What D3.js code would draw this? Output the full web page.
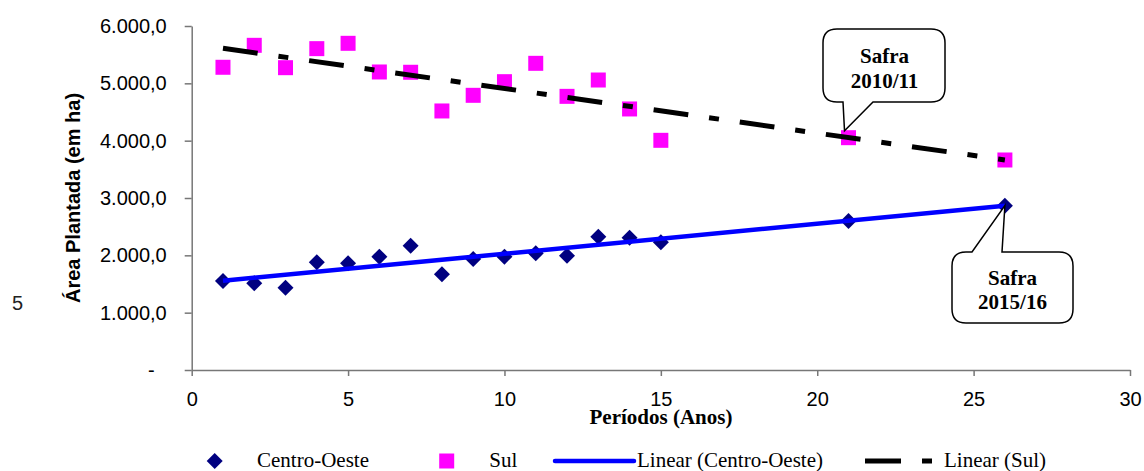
<!DOCTYPE html>
<html lang="pt">
<head>
  <meta charset="UTF-8">
  <title>Área Plantada - Centro-Oeste e Sul</title>
  <script src="https://d3js.org/d3.v7.min.js"></script>
  <style>
    body { margin: 0; background: #fff; }
    svg { display: block; }
  </style>
</head>
<body>
  <div id="chart"></div>
  <script>
    // periods (years) and planted area per region
    const periods = [1, 2, 3, 4, 5, 6, 7, 8, 9, 10, 11, 12, 13, 14, 15, 21, 26];
    const centroOeste = [1552, 1512, 1436, 1878, 1861, 1977, 2168, 1669, 1936, 1977, 2035, 1994, 2325, 2308, 2227, 2599, 2866];
    const sul = [5280, 5663, 5273, 5605, 5698, 5198, 5193, 4518, 4791, 5029, 5349, 4773, 5058, 4553, 4006, 4052, 3663];
    const xTicks = [0, 5, 10, 15, 20, 25, 30];
    const yTicks = [0, 1000, 2000, 3000, 4000, 5000, 6000];

    const width = 1144, height = 471;

    const svg = d3.create("svg")
      .attr("width", width)
      .attr("height", height)
      .style("font-family", "Arial, 'Liberation Sans', sans-serif");

    svg.append("rect").attr("width", width).attr("height", height).attr("fill", "#fff");

    const x = d3.scaleLinear().domain([0, 30]).range([191.7, 1130]);
    const y = d3.scaleLinear().domain([0, 6000]).range([370, 26]);

    // pt-BR number format: 6.000,0
    const ptBR = d3.formatLocale({ decimal: ",", thousands: ".", grouping: [3], currency: ["R$", ""] });
    const fmt = ptBR.format(",.1f");

    // y axis
    const yAxis = svg.append("g")
      .attr("transform", `translate(${x(0)},0)`)
      .call(d3.axisLeft(y).tickValues(yTicks).tickSize(7).tickSizeOuter(0).tickPadding(18)
        .tickFormat(d => d === 0 ? "-" : fmt(d)));
    yAxis.selectAll("text").attr("font-size", 20).attr("fill", "#000").attr("font-family", "Arial, 'Liberation Sans', sans-serif");
    yAxis.selectAll("text").filter(d => d === 0).attr("dx", -12);

    // x axis
    const xAxis = svg.append("g")
      .attr("transform", `translate(0,${y(0)})`)
      .call(d3.axisBottom(x).tickValues(xTicks).tickSize(6).tickSizeOuter(0).tickPadding(16));
    xAxis.selectAll("text").attr("font-size", 20).attr("fill", "#000").attr("font-family", "Arial, 'Liberation Sans', sans-serif");

    svg.selectAll(".domain, .tick line").attr("stroke", "#777").attr("stroke-width", 1.5);

    // axis titles
    svg.append("text")
      .attr("transform", `translate(80,${(y(0) + y(6000)) / 2}) rotate(-90)`)
      .attr("text-anchor", "middle")
      .attr("font-size", 20)
      .attr("font-weight", "bold")
      .text("Área Plantada (em ha)");

    svg.append("text")
      .attr("x", 661).attr("y", 424)
      .attr("text-anchor", "middle")
      .attr("font-family", "'Liberation Serif', 'Times New Roman', serif")
      .attr("font-size", 21)
      .attr("font-weight", "bold")
      .text("Períodos (Anos)");

    // stray "5" on the left margin
    svg.append("text")
      .attr("x", 12).attr("y", 310)
      .attr("font-size", 20)
      .attr("fill", "#222")
      .text("5");

    // markers
    const diamond = d3.symbol().type(d3.symbolSquare).size(128);
    const square = d3.symbol().type(d3.symbolSquare).size(225);

    svg.append("g").selectAll("path")
      .data(periods)
      .join("path")
      .attr("d", square)
      .attr("transform", (d, i) => `translate(${x(d)},${y(sul[i])})`)
      .attr("fill", "#ff00ff");

    svg.append("g").selectAll("path")
      .data(periods)
      .join("path")
      .attr("d", diamond)
      .attr("transform", (d, i) => `translate(${x(d)},${y(centroOeste[i])}) rotate(45)`)
      .attr("fill", "#000080");

    // least squares trend lines (Excel "Linear")
    function linearFit(xs, ys) {
      const mx = d3.mean(xs), my = d3.mean(ys);
      let sxy = 0, sxx = 0;
      xs.forEach((v, i) => { sxy += (v - mx) * (ys[i] - my); sxx += (v - mx) * (v - mx); });
      const b = sxy / sxx;
      const a = my - b * mx;
      const ext = d3.extent(xs);
      return ext.map(v => [v, a + b * v]);
    }

    const line = d3.line().x(d => x(d[0])).y(d => y(d[1]));

    svg.append("path")
      .datum(linearFit(periods, centroOeste))
      .attr("d", line)
      .attr("fill", "none")
      .attr("stroke", "#0000ff")
      .attr("stroke-width", 4.5);

    svg.append("path")
      .datum(linearFit(periods, sul))
      .attr("d", line)
      .attr("fill", "none")
      .attr("stroke", "#000")
      .attr("stroke-width", 5)
      .attr("stroke-dasharray", "35,21,10,21");

    // callouts
    function callout(box, tail, tip, side) {
      const [x0, y0, x1, y1] = box, r = 14;
      const [a, b] = tail;
      let p;
      if (side === "bottom") {
        p = `M${x0 + r},${y0} H${x1 - r} Q${x1},${y0} ${x1},${y0 + r} V${y1 - r} Q${x1},${y1} ${x1 - r},${y1}
             H${b} L${tip[0]},${tip[1]} L${a},${y1} H${x0 + r} Q${x0},${y1} ${x0},${y1 - r} V${y0 + r} Q${x0},${y0} ${x0 + r},${y0} Z`;
      } else {
        p = `M${x0 + r},${y0} H${a} L${tip[0]},${tip[1]} L${b},${y0} H${x1 - r} Q${x1},${y0} ${x1},${y0 + r} V${y1 - r}
             Q${x1},${y1} ${x1 - r},${y1} H${x0 + r} Q${x0},${y1} ${x0},${y1 - r} V${y0 + r} Q${x0},${y0} ${x0 + r},${y0} Z`;
      }
      svg.append("path").attr("d", p).attr("fill", "#fff").attr("stroke", "#000").attr("stroke-width", 1.5);
    }

    const i21 = periods.indexOf(21), i26 = periods.indexOf(26);
    callout([823, 29, 945, 102], [843, 873], [x(21) - 4, y(sul[i21]) - 7], "bottom");
    callout([952, 252, 1073, 323], [972, 1002], [x(26), y(centroOeste[i26])], "top");

    const calloutText = [
      { cx: 884.5, lines: ["Safra", "2010/11"], y0: 63 },
      { cx: 1012.5, lines: ["Safra", "2015/16"], y0: 284.5 }
    ];
    calloutText.forEach(c => {
      c.lines.forEach((t, k) => {
        svg.append("text")
          .attr("x", c.cx).attr("y", c.y0 + k * 24.5)
          .attr("text-anchor", "middle")
          .attr("font-family", "'Liberation Serif', 'Times New Roman', serif")
          .attr("font-size", 21)
          .attr("font-weight", "bold")
          .text(t);
      });
    });

    // legend
    const legend = svg.append("g")
      .attr("font-family", "'Liberation Serif', 'Times New Roman', serif")
      .attr("font-size", 21);
    const ly = 461, ty = 466.5;

    legend.append("path").attr("d", diamond).attr("transform", `translate(214.7,${ly}) rotate(45)`).attr("fill", "#000080");
    legend.append("text").attr("x", 257).attr("y", ty).text("Centro-Oeste");

    legend.append("path").attr("d", square).attr("transform", `translate(446.7,${ly})`).attr("fill", "#ff00ff");
    legend.append("text").attr("x", 489.3).attr("y", ty).text("Sul");

    legend.append("line").attr("x1", 555).attr("x2", 634).attr("y1", ly).attr("y2", ly)
      .attr("stroke", "#0000ff").attr("stroke-width", 4.5).attr("stroke-linecap", "round");
    legend.append("text").attr("x", 637).attr("y", ty).text("Linear (Centro-Oeste)");

    legend.append("line").attr("x1", 865).attr("x2", 932).attr("y1", ly).attr("y2", ly)
      .attr("stroke", "#000").attr("stroke-width", 5).attr("stroke-dasharray", "36,21,10,21");
    legend.append("text").attr("x", 944).attr("y", ty).text("Linear (Sul)");

    document.getElementById("chart").appendChild(svg.node());
  </script>
</body>
</html>
